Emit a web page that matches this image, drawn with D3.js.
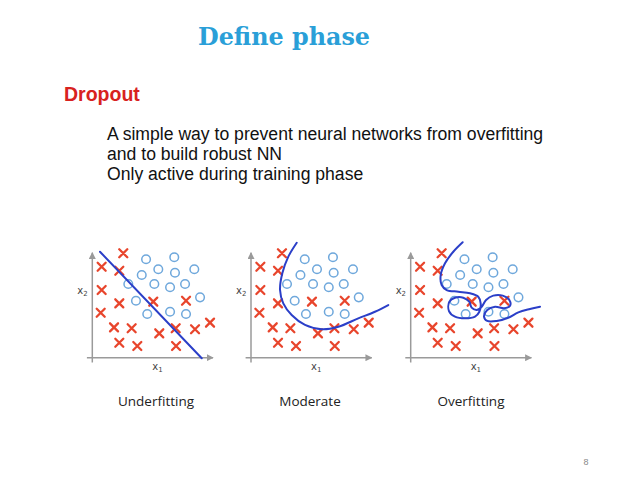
<!DOCTYPE html>
<html>
<head>
  <style>
    body { margin: 0; background: white; }
    svg { display: block; }
  </style>
</head>
<body>
  <script src="https://d3js.org/d3.v7.min.js"></script>
  <script>
    var width = 638, height = 479;

    // same samples in all three panels (x1, x2)
    var crosses = [
      [2.58, 8.70], [0.78, 7.58], [2.25, 7.25], [0.78, 5.64], [2.25, 4.53],
      [5.08, 4.67], [7.81, 4.75], [0.70, 3.75], [1.81, 2.53], [3.28, 2.45],
      [5.58, 2.03], [6.95, 2.45], [8.56, 2.37], [9.81, 2.92], [2.25, 1.25],
      [3.75, 0.98], [6.98, 0.98]
    ];
    var circles = [
      [4.48, 8.20], [6.83, 8.37], [5.50, 7.37], [6.89, 7.08], [8.50, 7.37],
      [4.12, 6.89], [3.00, 6.14], [5.17, 6.14], [6.48, 5.87], [7.73, 6.14],
      [3.64, 4.75], [8.98, 5.03], [4.58, 3.64], [6.48, 3.83], [7.81, 3.64]
    ];

    // decision boundaries
    var underfit = [[0.64, 8.83], [9.12, -0.05]];
    var moderate = [
      [3.81, 9.58], [3.11, 8.42], [2.61, 7.03], [2.42, 5.64], [2.69, 4.53],
      [3.39, 3.56], [4.50, 2.73], [5.89, 2.37], [7.28, 2.58], [8.94, 3.28],
      [10.33, 3.83], [11.44, 4.39]
    ];
    var overfit = [
      [4.33, 9.62], [3.55, 8.83], [2.86, 7.87], [2.50, 6.89], [2.58, 6.06],
      [3.00, 5.64], [3.97, 5.50], [4.94, 5.37], [5.63, 5.08], [5.83, 4.53],
      [5.72, 3.83], [5.36, 3.42], [4.53, 3.28], [3.69, 3.42], [3.19, 3.89],
      [3.22, 4.67], [3.69, 5.00], [4.38, 5.00], [4.88, 4.67], [5.08, 4.17],
      [5.50, 3.97], [5.92, 4.25], [6.28, 4.81], [6.88, 5.17], [7.67, 5.17],
      [8.22, 4.81], [8.28, 4.33], [7.78, 4.12], [7.03, 4.25], [6.38, 3.97],
      [6.11, 3.42], [6.38, 3.06], [7.17, 3.06], [8.13, 3.33], [8.97, 3.78],
      [9.94, 4.06], [10.78, 4.25]
    ];

    var panels = [
      { name: "Underfitting", x0: 92.3, curve: underfit, linear: true },
      { name: "Moderate", x0: 251, curve: moderate },
      { name: "Overfitting", x0: 410.7, curve: overfit }
    ];
    var labelX = [156, 310, 471];

    var body = ["A simple way to prevent neural networks from overfitting",
                "and to build robust NN",
                "Only active during training phase"];

    var svg = d3.select("body").append("svg")
        .attr("width", width).attr("height", height);

    var defs = svg.append("defs");
    defs.append("marker")
        .attr("id", "arr")
        .attr("viewBox", "0 0 10 10")
        .attr("refX", 9).attr("refY", 5)
        .attr("markerWidth", 7).attr("markerHeight", 7)
        .attr("markerUnits", "userSpaceOnUse")
        .attr("orient", "auto")
      .append("path")
        .attr("d", "M0,0 L10,5 L0,10 z")
        .attr("fill", "#9a9a9a");

    // titles
    svg.append("text")
        .attr("x", 198).attr("y", 45)
        .attr("textLength", 172).attr("lengthAdjust", "spacingAndGlyphs")
        .style("font-family", "'DejaVu Serif', serif")
        .style("font-weight", "bold")
        .style("font-size", "25px")
        .style("fill", "#2a9fd8")
        .text("Define phase");

    svg.append("text")
        .attr("x", 64).attr("y", 101)
        .style("font-family", "'Liberation Sans', Arial, sans-serif")
        .style("font-weight", "bold")
        .style("font-size", "19.5px")
        .style("fill", "#d8221e")
        .text("Dropout");

    svg.selectAll(".body")
        .data(body)
      .enter().append("text")
        .attr("class", "body")
        .attr("x", 107)
        .attr("y", (d, i) => 140 + i * 19.8)
        .style("font-family", "'Liberation Sans', Arial, sans-serif")
        .style("font-size", "17.6px")
        .style("fill", "#111")
        .text(d => d);

    var x = d3.scaleLinear().domain([0, 10]).range([0, 120]);
    var y = d3.scaleLinear().domain([0, 10]).range([0, -120]);

    panels.forEach((p, k) => {
      var g = svg.append("g").attr("transform", "translate(" + p.x0 + ",357.7)");

      // axes
      g.append("line")
          .attr("x1", x(-0.45)).attr("y1", 0)
          .attr("x2", x(10.06)).attr("y2", 0)
          .attr("stroke", "#9a9a9a").attr("stroke-width", 1.5)
          .attr("marker-end", "url(#arr)");
      g.append("line")
          .attr("x1", 0).attr("y1", y(-0.4))
          .attr("x2", 0).attr("y2", y(8.75))
          .attr("stroke", "#9a9a9a").attr("stroke-width", 1.5)
          .attr("marker-end", "url(#arr)");

      var t2 = g.append("text")
          .attr("x", -15).attr("y", y(5.3))
          .style("font-family", "'DejaVu Sans', sans-serif")
          .style("font-size", "10px").style("fill", "#444")
          .text("x");
      t2.append("tspan").attr("dy", 2).style("font-size", "7px").text("2");
      var t1 = g.append("text")
          .attr("x", x(5.0)).attr("y", 12)
          .style("font-family", "'DejaVu Sans', sans-serif")
          .style("font-size", "10px").style("fill", "#444")
          .text("x");
      t1.append("tspan").attr("dy", 2).style("font-size", "7px").text("1");

      g.selectAll(".o")
          .data(circles)
        .enter().append("circle")
          .attr("cx", d => x(d[0]))
          .attr("cy", d => y(d[1]))
          .attr("r", 4.3)
          .attr("fill", "none")
          .attr("stroke", "#6fa8dc")
          .attr("stroke-width", 1.5);

      g.selectAll(".x")
          .data(crosses)
        .enter().append("path")
          .attr("transform", d => "translate(" + x(d[0]) + "," + y(d[1]) + ")")
          .attr("d", "M-4,-4L4,4M-4,4L4,-4")
          .attr("stroke", "#e8452c")
          .attr("stroke-width", 2.3)
          .attr("stroke-linecap", "round");

      var line = d3.line()
          .x(d => x(d[0]))
          .y(d => y(d[1]))
          .curve(p.linear ? d3.curveLinear : d3.curveCatmullRom.alpha(0.5));
      g.append("path")
          .datum(p.curve)
          .attr("d", line)
          .attr("fill", "none")
          .attr("stroke", "#2b3fc8")
          .attr("stroke-width", 2)
          .attr("stroke-linecap", "round");

      svg.append("text")
          .attr("x", labelX[k]).attr("y", 406)
          .attr("text-anchor", "middle")
          .style("font-family", "'Open Sans', sans-serif")
          .style("font-size", "13.5px")
          .style("fill", "#222")
          .text(p.name);
    });

    svg.append("text")
        .attr("x", 586).attr("y", 465)
        .attr("text-anchor", "middle")
        .style("font-family", "'Liberation Sans', sans-serif")
        .style("font-size", "9px")
        .style("fill", "#888")
        .text("8");
  </script>
</body>
</html>
